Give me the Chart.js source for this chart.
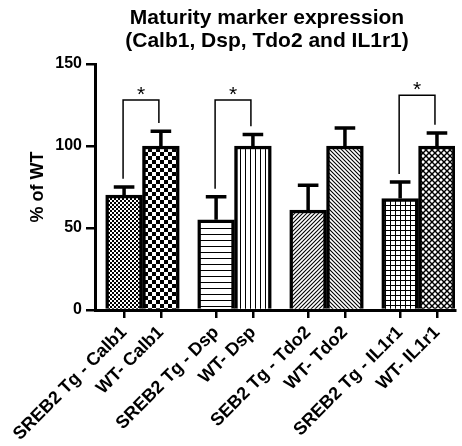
<!DOCTYPE html>
<html>
<head>
<meta charset="utf-8">
<script src="https://cdn.jsdelivr.net/npm/chart.js@4.4.1/dist/chart.umd.min.js"></script>
<style>
  body { margin: 0; background: #fff; }
  canvas { display: block; }
</style>
</head>
<body>
<canvas id="chart" width="462" height="446"></canvas>
<script>
const titleLines = ["Maturity marker expression", "(Calb1, Dsp, Tdo2 and IL1r1)"];
const labels = [
    "SREB2 Tg - Calb1", "WT- Calb1",
    "SREB2 Tg - Dsp", "WT- Dsp",
    "SEB2 Tg - Tdo2", "WT- Tdo2",
    "SREB2 Tg - IL1r1", "WT- IL1r1"
];
const values = [70, 100, 55, 100, 61, 100, 68, 100];
const errors = [5, 9, 14, 7, 15, 11, 10, 8];
const yTicks = [0, 50, 100, 150];
// significance brackets: bar index pairs and height of the bar
const sigPairs = [[0, 1], [2, 3], [6, 7]];
const sigHeights = [128, 128, 131];
const sigMark = "*";

const pairGap = 0.5;
const xs = labels.map((l, i) => i + Math.floor(i / 2) * pairGap);
const font = "'Liberation Sans', Arial, sans-serif";

function makePattern(kind) {
    const s = { fine: 4, check: 8, hlines: 6, vlines: 5, diagA: 4, diagB: 4, grid: 5, cross: 6 }[kind];
    const c = document.createElement("canvas");
    c.width = s;
    c.height = s;
    const g = c.getContext("2d");
    g.fillStyle = "#fff";
    g.fillRect(0, 0, s, s);
    g.fillStyle = "#000";
    g.strokeStyle = "#000";
    g.lineWidth = 1;
    if (kind === "fine" || kind === "check") {
        const h = s / 2;
        g.fillRect(0, 0, h, h);
        g.fillRect(h, h, h, h);
    } else if (kind === "hlines") {
        g.fillRect(0, 0, s, 1);
    } else if (kind === "vlines") {
        g.fillRect(0, 0, 1, s);
    } else if (kind === "grid") {
        g.fillRect(0, 0, s, 1);
        g.fillRect(0, 0, 1, s);
    } else {
        const lines = [];
        if (kind === "diagA" || kind === "cross") lines.push([[-1, s + 1], [s + 1, -1]], [[-1, 1], [1, -1]], [[s - 1, s + 1], [s + 1, s - 1]]);
        if (kind === "diagB" || kind === "cross") lines.push([[-1, -1], [s + 1, s + 1]], [[s - 1, -1], [s + 1, 1]], [[-1, s - 1], [1, s + 1]]);
        g.lineWidth = kind === "cross" ? 1.4 : 1.1;
        lines.forEach(([a, b]) => {
            g.beginPath();
            g.moveTo(a[0], a[1]);
            g.lineTo(b[0], b[1]);
            g.stroke();
        });
    }
    return g.createPattern(c, "repeat");
}

const fills = ["fine", "check", "hlines", "vlines", "diagA", "diagB", "grid", "cross"].map(makePattern);

const titlePlugin = {
    id: "topTitle",
    afterDraw(chart) {
        const ctx = chart.ctx;
        const a = chart.chartArea;
        ctx.save();
        ctx.fillStyle = "#000";
        ctx.font = "bold 21px " + font;
        ctx.textAlign = "center";
        ctx.textBaseline = "alphabetic";
        const cx = (a.left + a.right) / 2 - 8;
        ctx.fillText(titleLines[0], cx, 24);
        ctx.fillText(titleLines[1], cx, 47);
        ctx.restore();
    }
};

const errorPlugin = {
    id: "errorBars",
    afterDatasetsDraw(chart) {
        const ctx = chart.ctx;
        const y = chart.scales.y;
        const meta = chart.getDatasetMeta(0);
        ctx.save();
        ctx.strokeStyle = "#000";
        ctx.lineWidth = 3.5;
        meta.data.forEach((bar, i) => {
            const top = y.getPixelForValue(values[i] + errors[i]);
            const half = bar.width * 0.28;
            ctx.beginPath();
            ctx.moveTo(bar.x, bar.y);
            ctx.lineTo(bar.x, top);
            ctx.moveTo(bar.x - half, top);
            ctx.lineTo(bar.x + half, top);
            ctx.stroke();
        });

        ctx.lineWidth = 1.5;
        ctx.fillStyle = "#000";
        ctx.font = "21px " + font;
        ctx.textAlign = "center";
        ctx.textBaseline = "alphabetic";
        sigPairs.forEach(([a, b], k) => {
            const xa = meta.data[a].x - 1;
            const xb = meta.data[b].x - 2;
            const yt = y.getPixelForValue(sigHeights[k]);
            const ya = y.getPixelForValue(values[a] + errors[a] + 5);
            const yb = y.getPixelForValue(values[b] + errors[b] + 5);
            ctx.beginPath();
            ctx.moveTo(xa, ya);
            ctx.lineTo(xa, yt);
            ctx.lineTo(xb, yt);
            ctx.lineTo(xb, yb);
            ctx.stroke();
            ctx.fillText(sigMark, (xa + xb) / 2, yt + 1);
        });
        ctx.restore();
    }
};

const ctx = document.getElementById("chart");

const chart = new Chart(ctx, {
    type: "bar",
    data: {
        datasets: [{
            data: values.map((v, i) => ({ x: xs[i], y: v })),
            backgroundColor: fills,
            borderColor: "#000",
            borderWidth: 3.5,
            categoryPercentage: 1,
            barPercentage: 1
        }]
    },
    options: {
        responsive: false,
        animation: false,
        devicePixelRatio: 1,
        layout: {
            padding: { top: 64, right: 7, left: 0, bottom: 0 }
        },
        plugins: {
            legend: { display: false },
            tooltip: { enabled: false },
            title: { display: false }
        },
        scales: {
            x: {
                type: "linear",
                min: -0.79,
                max: 8.99,
                offset: false,
                afterBuildTicks: (scale) => {
                    scale.ticks = xs.map(v => ({ value: v }));
                },
                afterFit: (scale) => {
                    scale.height = 136;
                },
                grid: {
                    offset: false,
                    drawOnChartArea: false,
                    drawTicks: true,
                    tickLength: 8,
                    color: "#000",
                    lineWidth: 2.5
                },
                border: { color: "#000", width: 3 },
                ticks: {
                    autoSkip: false,
                    minRotation: 45,
                    maxRotation: 45,
                    padding: 4,
                    color: "#000",
                    font: { family: font, size: 18, weight: "bold" },
                    callback: (value, index) => labels[index]
                }
            },
            y: {
                min: 0,
                max: 150,
                afterBuildTicks: (scale) => {
                    scale.ticks = yTicks.map(v => ({ value: v }));
                },
                afterFit: (scale) => {
                    scale.width = 95;
                },
                grid: {
                    drawOnChartArea: false,
                    drawTicks: true,
                    tickLength: 9,
                    color: "#000",
                    lineWidth: 2.5
                },
                border: { color: "#000", width: 3 },
                ticks: {
                    padding: 4,
                    color: "#000",
                    font: { family: font, size: 16, weight: "bold" }
                },
                title: {
                    display: true,
                    text: "% of WT",
                    color: "#000",
                    padding: { top: 27, bottom: 0 },
                    font: { family: font, size: 18, weight: "bold" }
                }
            }
        }
    },
    plugins: [titlePlugin, errorPlugin]
});
</script>
</body>
</html>
